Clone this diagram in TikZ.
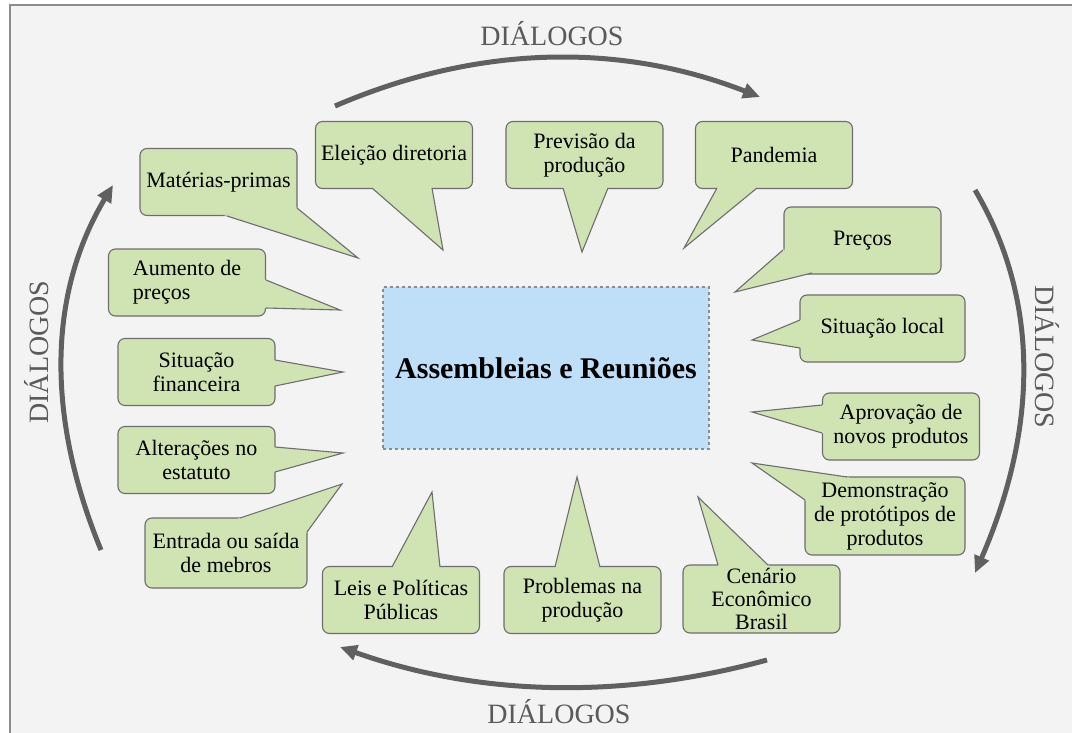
\documentclass[tikz,border=0pt]{standalone}
\usepackage{fontspec}
\setmainfont{Liberation Serif}
\usetikzlibrary{calc,arrows.meta}
\definecolor{fundo}{HTML}{F3F3F3}
\definecolor{moldura}{HTML}{8C8C8C}
\definecolor{verde}{HTML}{CFE3B3}
\definecolor{bordaverde}{HTML}{6E6E6E}
\definecolor{azul}{HTML}{BEDFF7}
\definecolor{seta}{HTML}{606060}
\definecolor{cinzatexto}{HTML}{5A5A5A}
% tail of a speech balloon: base point, tip, base point, point just inside the box
\newcommand{\cauda}[4]{%
  \fill[verde] ($(#2)!1.03!(#1)$) -- (#2) -- ($(#2)!1.03!(#3)$) -- (#4) -- cycle;
  \draw[draw=bordaverde, line width=1.1pt] (#1) -- (#2) -- (#3);}

\begin{document}
\begin{tikzpicture}[x=1pt, y=-1pt,
    balao/.style={draw=bordaverde, fill=verde, line width=1.1pt,
      rounded corners=7pt, minimum width=157pt, minimum height=67pt, inner sep=2pt,
      align=center, font=\fontsize{22}{24}\selectfont},
    hub/.style={draw=moldura, fill=azul, dashed, line width=1.2pt,
      minimum width=326pt, minimum height=162pt,
      font=\bfseries\fontsize{30}{34}\selectfont},
    ciclo/.style={draw=seta, line width=5pt, -{Triangle[length=17pt,width=15pt]}},
    rotulo/.style={text=cinzatexto, font=\fontsize{28}{30}\selectfont}]
  \useasboundingbox (0,0) rectangle (1072,733);
  \clip (0,0) rectangle (1072,733);
  % page and frame
  \fill[white] (0,0) rectangle (1072,733);
  \draw[fill=fundo, draw=moldura, line width=1.6pt] (10,5) rectangle (1090,750);

  % centre
  \node[hub] (hub) at (546,368) {Assembleias e Reuniões};

  % top row
  \node[balao] (materias) at (218.5,182) {Matérias-primas};
  \node[balao] (eleicao) at (394,155) {Eleição diretoria};
  \node[balao] (previsao) at (584.5,155) {Previsão da\\produção};
  \node[balao] (pandemia) at (774,155) {Pandemia};
  \cauda{227,216}{358,258}{297,208}{293,212}
  \cauda{372,188}{443,250}{432,188}{402,186}
  \cauda{563,188}{582,252}{608,188}{585,186}
  \cauda{717,188}{684,248}{757,188}{737,186}

  % right side
  \node[balao] (precos) at (862.5,240.5) {Preços};
  \node[balao, minimum width=165pt] (local) at (882.5,328.5) {Situação local};
  \node[balao] (aprovacao) at (901,426.5) {Aprovação de\\novos produtos};
  \node[balao, minimum width=160pt, minimum height=78pt] (demonstracao) at (885,516) {Demonstração\\de protótipos de\\produtos};
  \cauda{783,250}{735,292}{812,273}{787,269}
  \cauda{800,320}{752,340}{800,348}{802,334}
  \cauda{822,405}{752,412}{822,433}{824,419}
  \cauda{847,477}{752,463}{805,500}{809,481}

  % bottom row
  \node[balao, minimum height=68pt, inner sep=0pt, font=\fontsize{22}{23}\selectfont] (cenario) at (761.5,599) {Cenário\\Econômico\\Brasil};
  \node[balao] (problemas) at (582.5,600) {Problemas na\\produção};
  \node[balao] (leis) at (401,600) {Leis e Políticas\\Públicas};
  \cauda{718,565}{698,497}{768,565}{743,567}
  \cauda{555,567}{577,477}{600,567}{577,569}
  \cauda{392,567}{432,492}{440,567}{416,569}

  % left side
  \node[balao, minimum width=162pt, minimum height=70pt] (entrada) at (226,553) {Entrada ou saída\\de mebros};
  \node[balao] (estatuto) at (196.5,460) {Alterações no\\estatuto};
  \node[balao] (financeira) at (196.5,372) {Situação\\financeira};
  \node[balao, align=left] (aumento) at (187,282.5) {Aumento de\\preços};
  \cauda{240,518}{342,484}{307,532}{303,522}
  \cauda{275,447}{343,453}{275,472}{273,460}
  \cauda{275,360}{343,372}{275,386}{273,373}
  \cauda{266,280}{340,310}{266,308}{264,294}

  % cycle of dialogues
  \coordinate (c1) at (335,106);
  \coordinate (c2) at (760,97);
  \coordinate (c3) at (975,190);
  \coordinate (c4) at (975,573);
  \coordinate (c5) at (767,660);
  \coordinate (c6) at (340,647);
  \coordinate (c7) at (101,550);
  \coordinate (c8) at (113,185);
  \draw[ciclo] (c1) .. controls (477,45) and (619,42) .. (c2);
  \draw[ciclo] (c3) .. controls (1039,298) and (1039,426) .. (c4);
  \draw[ciclo] (c5) .. controls (620,700) and (478,696) .. (c6);
  \draw[ciclo] (c7) .. controls (45,414) and (49,292) .. (c8);

  \node[rotulo] (dtop) at (552,34) {DIÁLOGOS};
  \node[rotulo] (dbottom) at (559,712) {DIÁLOGOS};
  \node[rotulo, rotate=90] (dleft) at (37,352) {DIÁLOGOS};
  \node[rotulo, rotate=-90] (dright) at (1047,357) {DIÁLOGOS};
\end{tikzpicture}
\end{document}
